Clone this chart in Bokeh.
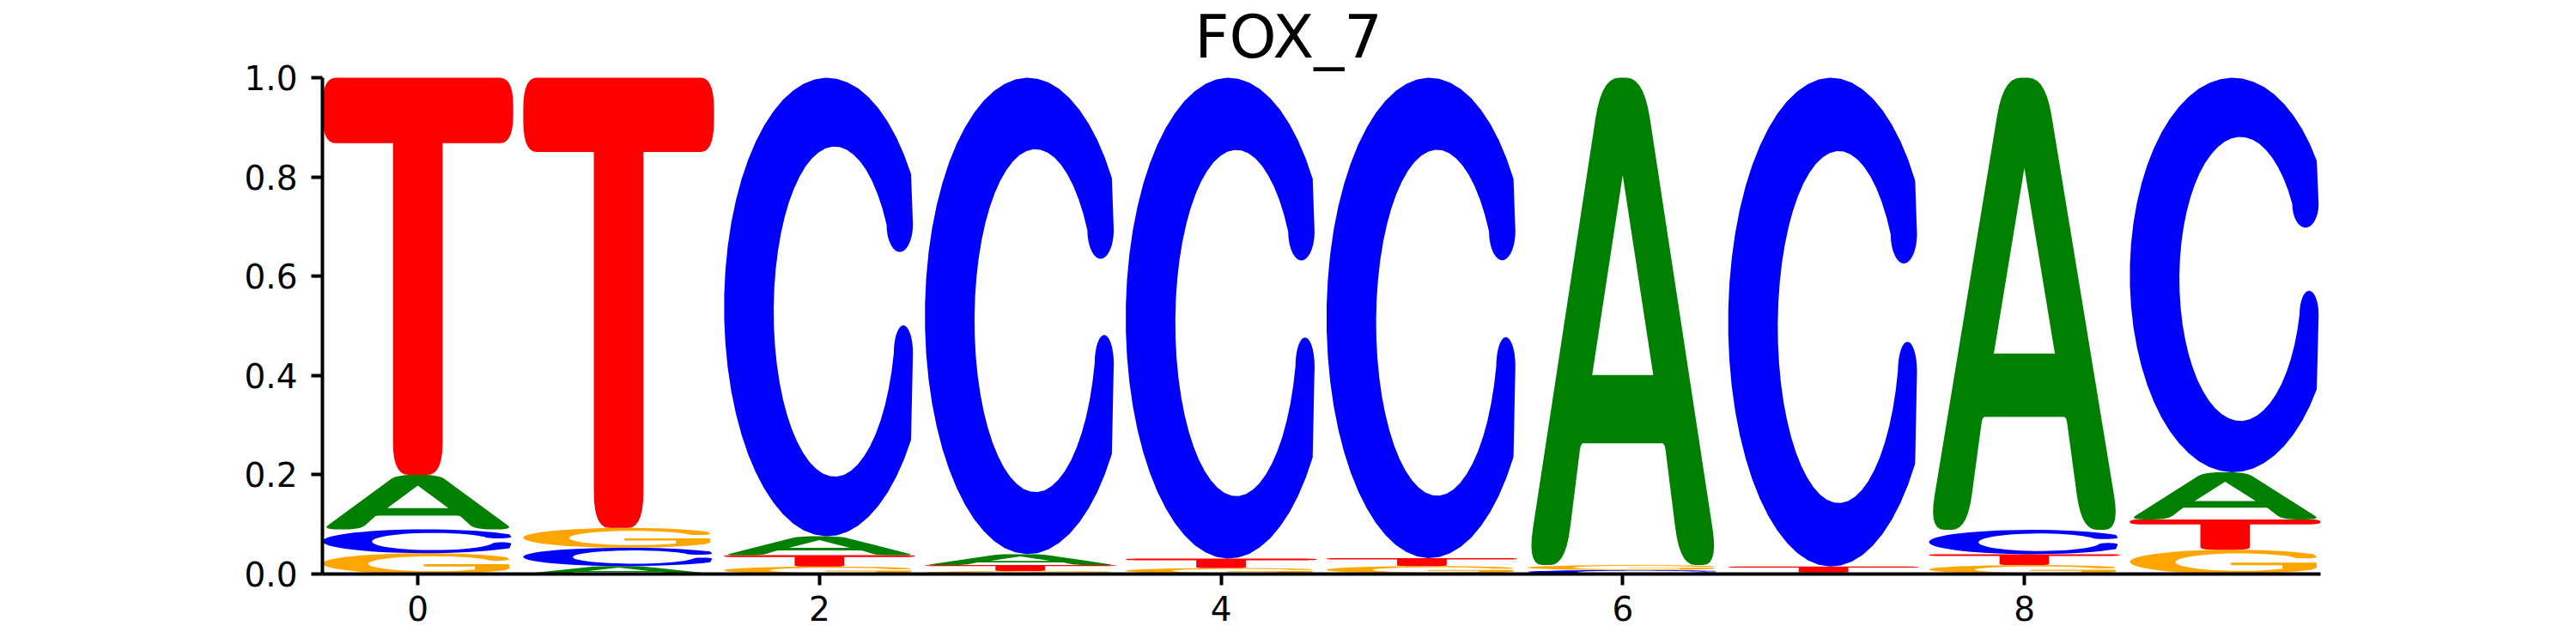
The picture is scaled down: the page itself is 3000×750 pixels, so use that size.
import numpy as np
from bokeh.plotting import figure
from bokeh.models import ColumnDataSource, FixedTicker, PrintfTickFormatter, Label
from bokeh.embed import file_html
from bokeh.resources import INLINE

# probability of each base at each motif position (columns sum to 1)
positions = [0, 1, 2, 3, 4, 5, 6, 7, 8, 9]
prob_A = [0.110, 0.016, 0.038, 0.022, 0.001, 0.001, 0.982, 0.003, 0.911, 0.095]
prob_C = [0.048, 0.037, 0.924, 0.960, 0.969, 0.968, 0.008, 0.985, 0.049, 0.795]
prob_G = [0.042, 0.040, 0.015, 0.006, 0.011, 0.015, 0.010, 0.000, 0.018, 0.049]
prob_T = [0.800, 0.907, 0.023, 0.012, 0.019, 0.016, 0.000, 0.012, 0.022, 0.061]

x_ticks = [0, 2, 4, 6, 8]
y_ticks = [0.0, 0.2, 0.4, 0.6, 0.8, 1.0]
title = "FOX_7"

COLORS = {"A": "#008000", "C": "#0000ff", "G": "#ffa500", "T": "#ff0000"}
WIDTH = 0.95  # letter width in position units


def arc(cx, cy, rx, ry, a0, a1, n=48):
    t = np.radians(np.linspace(a0, a1, n))
    return [(cx + rx * np.cos(a), cy + ry * np.sin(a), 0.0) for a in t]


def round_ring(pts, n=8):
    # pts: list of (x, y, corner radius); corners with r > 0 get a bezier
    out_x, out_y = [], []
    N = len(pts)
    for i in range(N):
        p0 = np.array(pts[i - 1][:2])
        p1 = np.array(pts[i][:2])
        p2 = np.array(pts[(i + 1) % N][:2])
        r = pts[i][2]
        if r <= 0:
            out_x.append(p1[0]); out_y.append(p1[1])
            continue
        d0, d2 = p0 - p1, p2 - p1
        l0, l2 = np.hypot(*d0), np.hypot(*d2)
        a = p1 + d0 / l0 * min(r, l0 / 2)
        b = p1 + d2 / l2 * min(r, l2 / 2)
        for t in np.linspace(0, 1, n):
            q = (1 - t) ** 2 * a + 2 * (1 - t) * t * p1 + t ** 2 * b
            out_x.append(q[0]); out_y.append(q[1])
    return out_x, out_y


def inner_x(cx, cy, rx, ry, y):
    return cx + rx * np.sqrt(1 - ((y - cy) / ry) ** 2)


def inner_angle(cy, ry, y):
    return np.degrees(np.arcsin((y - cy) / ry))


# letter outlines in a unit box, first ring is the outside, others are holes
def letter_A():
    outer = [(0.0, 0.0, 0.08), (0.2, 0.0, 0.08), (0.28, 0.25, 0.015), (0.72, 0.25, 0.015),
             (0.80, 0.0, 0.08), (1.0, 0.0, 0.08), (0.61, 1.0, 0.09), (0.39, 1.0, 0.09)]
    hole = [(0.34, 0.39, 0), (0.66, 0.39, 0), (0.5, 0.80, 0)]
    return [round_ring(outer), round_ring(hole)]


def letter_T():
    outer = [(0.37, 0.0, 0.08), (0.63, 0.0, 0.08), (0.63, 0.835, 0), (1.0, 0.835, 0.07),
             (1.0, 1.0, 0.07), (0.0, 1.0, 0.07), (0.0, 0.835, 0.07), (0.37, 0.835, 0)]
    return [round_ring(outer)]


def letter_C():
    cx, cy, rx, ry = 0.58, 0.49, 0.32, 0.36
    out = arc(0.54, 0.5, 0.54, 0.5, 35.4, 324.6)
    # lower terminal with a rounded top
    xl = inner_x(cx, cy, rx, ry, 0.40)
    low = arc((xl + 0.99) / 2, 0.40, (0.99 - xl) / 2, 0.06, 0, 180, 16)
    inner = arc(cx, cy, rx, ry, 360 + inner_angle(cy, ry, 0.40), inner_angle(cy, ry, 0.68))
    # upper terminal hanging down with a rounded end
    xu = inner_x(cx, cy, rx, ry, 0.68)
    up = arc((xu + 0.99) / 2, 0.68, (0.99 - xu) / 2, 0.06, 180, 360, 16)
    return [round_ring(out + low + inner + up)]


def letter_G():
    cx, cy, rx, ry = 0.58, 0.49, 0.34, 0.36
    out = arc(0.54, 0.5, 0.54, 0.5, 38, 320)
    bar = [(0.98, 0.26, 0.02), (0.98, 0.47, 0.02), (0.53, 0.47, 0.02), (0.53, 0.36, 0.02),
           (0.80, 0.36, 0)]
    lo = 360 - np.degrees(np.arccos((0.80 - cx) / rx))
    inner = arc(cx, cy, rx, ry, lo, inner_angle(cy, ry, 0.70))
    xu = inner_x(cx, cy, rx, ry, 0.70)
    up = arc((xu + 0.98) / 2, 0.70, (0.98 - xu) / 2, 0.06, 180, 360, 16)
    return [round_ring(out + bar + inner + up)]


SHAPES = {"A": letter_A(), "C": letter_C(), "G": letter_G(), "T": letter_T()}

# stack letters: smallest at the bottom, biggest on top
gx, gy, gc = [], [], []
for i, pos in enumerate(positions):
    col = sorted([(prob_A[i], "A"), (prob_C[i], "C"), (prob_G[i], "G"), (prob_T[i], "T")])
    bottom = 0.0
    for v, base in col:
        if v > 0:
            x0 = pos - WIDTH / 2
            rings_x = [[x0 + u * WIDTH for u in rx] for rx, ry in SHAPES[base]]
            rings_y = [[bottom + w * v for w in ry] for rx, ry in SHAPES[base]]
            gx.append([rings_x]); gy.append([rings_y]); gc.append(COLORS[base])
        bottom += v

source = ColumnDataSource(data=dict(xs=gx, ys=gy, color=gc))

# frame reaches the top of the canvas so the title can sit inside it;
# the y axis line itself is bounded to 0..1
px_per_y = 578
y_top = 1 + 90 / px_per_y
p = figure(width=2992, height=742, x_range=(-0.475, 9.475), y_range=(0, y_top),
           output_backend="svg", toolbar_location=None,
           min_border_left=375, min_border_right=290, min_border_top=0, min_border_bottom=74)
p.multi_polygons(xs="xs", ys="ys", source=source, fill_color="color", line_color=None)

p.xgrid.visible = False
p.ygrid.visible = False
p.outline_line_color = None
p.background_fill_color = "white"

p.xaxis.ticker = FixedTicker(ticks=x_ticks)
p.yaxis.ticker = FixedTicker(ticks=y_ticks)
p.yaxis.formatter = PrintfTickFormatter(format="%.1f")
p.yaxis.bounds = (0, 1)
for ax in (p.xaxis, p.yaxis):
    ax.axis_line_width = 4
    ax.axis_line_color = "black"
    ax.major_tick_line_width = 4
    ax.major_tick_out = 13
    ax.major_tick_in = 0
    ax.minor_tick_line_color = None
    ax.major_label_text_font = "DejaVu Sans"
    ax.major_label_text_font_size = "39px"
    ax.major_label_text_color = "black"
p.xaxis.major_label_standoff = 12
p.yaxis.major_label_standoff = 16

# title centred on the page, above the letters
px_per_x = 2327 / 9.95
title_size = 70
title_x = -0.475 + (1500 - 375) / px_per_x
title_mid = 67 - 0.346 * title_size
title_y = 1 + (90 - title_mid) / px_per_y
p.add_layout(Label(x=title_x, y=title_y, text=title, text_font="DejaVu Sans",
                   text_font_size=f"{title_size}px", text_align="center",
                   text_baseline="middle", text_color="black"))

open("out.html", "w").write(file_html(p, INLINE))
